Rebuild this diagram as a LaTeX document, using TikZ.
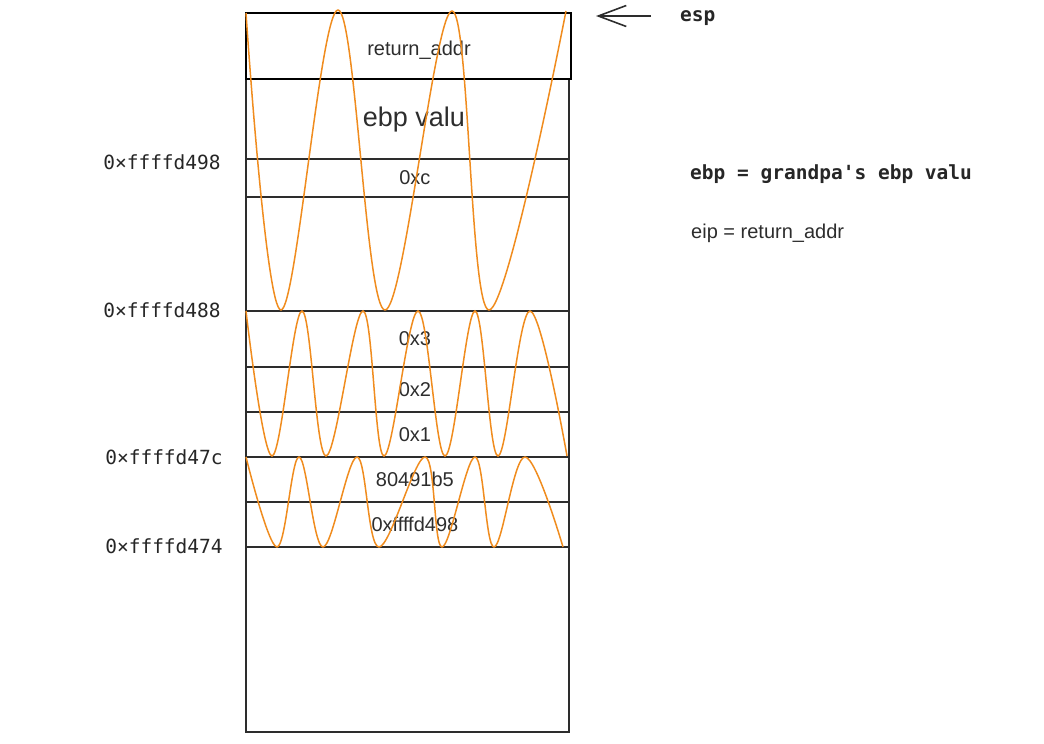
\documentclass[tikz,border=0pt]{standalone}
\usepackage{fontspec}
\setmainfont{Liberation Sans}
\newfontfamily\mono{DejaVu Sans Mono}
\usetikzlibrary{arrows.meta}
\definecolor{scrib}{RGB}{240,140,30}
\definecolor{ink}{RGB}{45,45,45}
\begin{document}
\begin{tikzpicture}[x=1pt,y=-1pt,
  cell/.style={draw=ink, line width=1.8pt, minimum width=323pt, inner sep=0pt, anchor=north west,
    font=\fontsize{20}{24}\selectfont, text=ink, execute at begin node=\hspace*{15pt}},
  addr/.style={font=\mono\fontsize{19.5}{22}\selectfont, text=black!85},
  note/.style={font=\mono\bfseries\fontsize{19.5}{22}\selectfont, anchor=west, inner sep=0pt, text=black!85},
  plain/.style={font=\fontsize{20}{24}\selectfont, anchor=west, inner sep=0pt, text=ink},
  scribble/.style={draw=scrib, line width=1.5pt, smooth, tension=0.6}]
\useasboundingbox (0,0) rectangle (1044,744);
% stack cells
\node[cell, minimum height=80pt] (c1) at (245,78) {};
\node[font=\fontsize{27}{30}\selectfont, text=ink] (c1t) at (414,120) {ebp valu};
\node[cell, minimum height=38pt] (c2) at (245,158) {0xc};
\node[cell, minimum height=114pt] (c3) at (245,196) {};
\node[cell, minimum height=56pt] (c4) at (245,310) {0x3};
\node[cell, minimum height=45pt] (c5) at (245,366) {0x2};
\node[cell, minimum height=45pt] (c6) at (245,411) {0x1};
\node[cell, minimum height=45pt] (c7) at (245,456) {80491b5};
\node[cell, minimum height=45pt] (c8) at (245,501) {0xffffd498};
\node[cell, minimum height=185pt] (c9) at (245,546) {};
\node[cell, draw=black, line width=2.2pt, minimum height=66pt, minimum width=325pt] (ret) at (245,12) {};
\node[font=\fontsize{20}{24}\selectfont, text=ink] (rett) at (419,50) {return\_addr};
% scribbles
\draw[scribble] plot coordinates {(246,13) (281,310) (338,10) (385,310) (452,11) (489,310) (566,11)};
\draw[scribble] plot coordinates {(246,311) (272,456) (302,311) (326,456) (363,311) (384,456) (418,311) (445,456) (475,311) (498,456) (530,311) (567,456)};
\draw[scribble] plot coordinates {(246,457) (277,547) (299,457) (323,547) (357,457) (379,547) (425,457) (442,547) (475,457) (494,547) (525,457) (563,547)};
% addresses
\node[addr] (a1) at (162,162) {0×ffffd498};
\node[addr] (a2) at (162,310) {0×ffffd488};
\node[addr] (a3) at (164,457) {0×ffffd47c};
\node[addr] (a4) at (164,546) {0×ffffd474};
% notes
\node[note] (esp) at (680,18) {esp};
\coordinate (tail) at (651,16);
\coordinate (head) at (596,16);
\draw[ink, line width=1.6pt, -{Straight Barb[length=28pt,width=21pt]}] (tail) -- (head);
\node[note] (n1) at (690,174) {ebp = grandpa\textquotesingle s ebp valu};
\node[plain] (n2) at (691,233) {eip = return\_addr};
\end{tikzpicture}
\end{document}
